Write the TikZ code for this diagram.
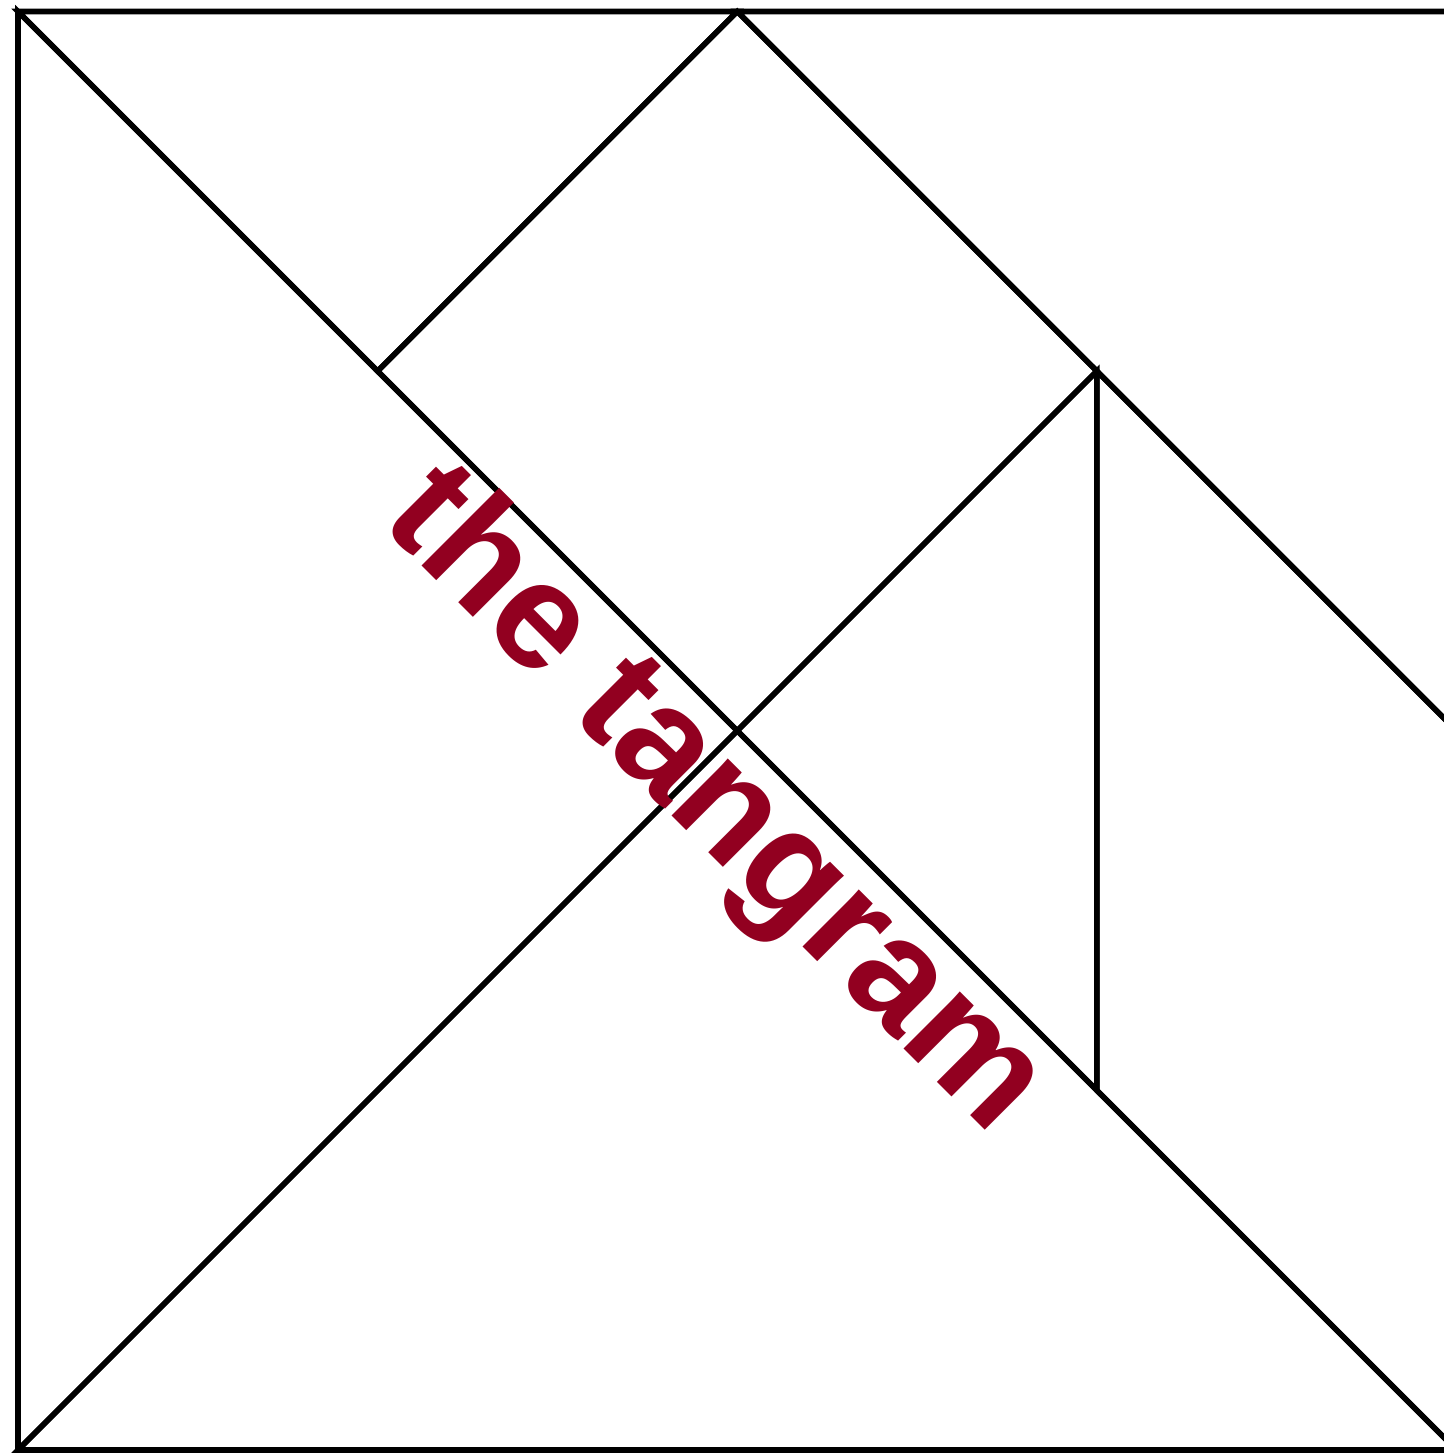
\documentclass[tikz,border=0pt]{standalone}
\usepackage{fontspec}
\setmainfont{Liberation Sans}
\usetikzlibrary{calc}

\begin{document}
\begin{tikzpicture}[
    % Estilo para los bordes de las piezas
    pieza/.style={
        line width=1.1pt, black, line join=miter
    },
    % Estilo para el titulo (rojo, girado sobre la diagonal)
    titulo/.style={
        text=rojoTitulo, inner sep=0pt, anchor=base, rotate=-45,
        font=\fontsize{30}{36}\selectfont\bfseries
    }
]
    % --- PARAMETROS ---
    \def\lado{10}

    % --- COLORES ---
    \definecolor{rojoTitulo}{RGB}{146, 0, 32} % #920020

    % Marco (recorta el borde derecho)
    \clip (-0.125, -0.021) rectangle (9.913, 10.080);

    % 1. Puntos clave
    \coordinate (A) at (0, 0);
    \coordinate (B) at (\lado, 0);
    \coordinate (C) at (\lado, \lado);
    \coordinate (D) at (0, \lado);
    \coordinate (M) at (0.5*\lado, 0.5*\lado);
    \coordinate (T) at (0.5*\lado, \lado);
    \coordinate (R) at (\lado, 0.5*\lado);
    \coordinate (P) at (0.25*\lado, 0.75*\lado);
    \coordinate (Q) at (0.75*\lado, 0.75*\lado);
    \coordinate (S) at (0.75*\lado, 0.25*\lado);

    % 2. Triangulos grandes
    \draw[pieza] (A) -- (D) -- (M) -- cycle;
    \draw[pieza] (A) -- (B) -- (M) -- cycle;

    % 3. Triangulo mediano
    \draw[pieza] (T) -- (C) -- (R) -- cycle;

    % 4. Triangulos pequenos
    \draw[pieza] (D) -- (T) -- (P) -- cycle;
    \draw[pieza] (M) -- (Q) -- (S) -- cycle;

    % 5. Cuadrado y paralelogramo
    \draw[pieza] (T) -- (Q) -- (M) -- (P) -- cycle;
    \draw[pieza] (Q) -- (R) -- (B) -- (S) -- cycle;

    % 6. Titulo
    \node[titulo] (nombre) at (4.639, 4.311) {the tangram};

\end{tikzpicture}
\end{document}
